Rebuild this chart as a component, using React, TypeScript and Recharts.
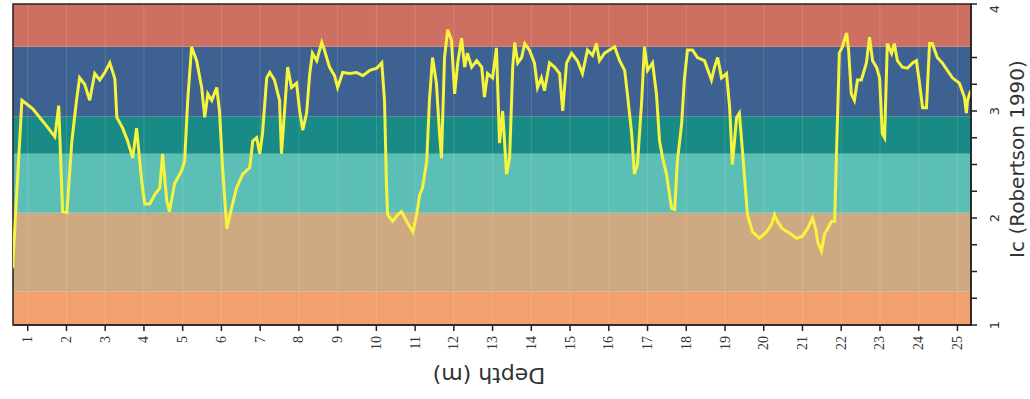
import { ComposedChart, Line, XAxis, YAxis, ReferenceArea, ReferenceLine } from 'recharts';

// CPT soil behaviour type index along the sounding
const depths = [
  0.61, 0.85, 1.13, 1.4, 1.7, 1.8, 1.9, 2.01, 2.14, 2.26, 2.34, 2.47, 2.6, 2.73, 2.86, 2.99, 3.12, 3.25, 3.3, 3.45,
  3.58, 3.71, 3.81, 3.94, 4.02, 4.15, 4.28, 4.41, 4.48, 4.59, 4.66, 4.79, 4.97, 5.05, 5.13, 5.23, 5.36, 5.49, 5.57, 5.65,
  5.75, 5.88, 5.95, 6.03, 6.14, 6.26, 6.39, 6.55, 6.73, 6.81, 6.91, 6.99, 7.06, 7.17, 7.25, 7.37, 7.5, 7.55, 7.63, 7.71,
  7.81, 7.94, 8.02, 8.1, 8.2, 8.28, 8.35, 8.46, 8.59, 8.66, 8.79, 8.92, 9.0, 9.13, 9.31, 9.49, 9.65, 9.83, 10.01, 10.14,
  10.21, 10.26, 10.29, 10.42, 10.55, 10.65, 10.78, 10.94, 11.04, 11.12, 11.19, 11.3, 11.37, 11.45, 11.55, 11.63, 11.68, 11.76, 11.84, 11.94,
  12.02, 12.1, 12.2, 12.28, 12.35, 12.46, 12.59, 12.72, 12.79, 12.87, 13.0, 13.1, 13.18, 13.26, 13.36, 13.44, 13.52, 13.57, 13.65, 13.75,
  13.83, 13.95, 14.08, 14.16, 14.26, 14.34, 14.47, 14.6, 14.73, 14.81, 14.91, 15.04, 15.19, 15.32, 15.45, 15.58, 15.68, 15.76, 15.89, 16.02,
  16.15, 16.28, 16.41, 16.48, 16.59, 16.66, 16.74, 16.85, 16.92, 17.0, 17.13, 17.23, 17.31, 17.39, 17.49, 17.62, 17.7, 17.77, 17.88, 17.95,
  18.03, 18.16, 18.29, 18.47, 18.65, 18.73, 18.81, 18.91, 19.04, 19.12, 19.19, 19.3, 19.37, 19.45, 19.58, 19.71, 19.89, 20.07, 20.2, 20.28,
  20.35, 20.48, 20.66, 20.85, 21.0, 21.13, 21.26, 21.34, 21.39, 21.49, 21.57, 21.65, 21.75, 21.83, 21.88, 21.93, 21.95, 22.03, 22.14, 22.19,
  22.26, 22.34, 22.42, 22.52, 22.65, 22.73, 22.81, 22.91, 22.99, 23.06, 23.12, 23.19, 23.3, 23.37, 23.45, 23.58, 23.71, 23.84, 23.94, 24.01,
  24.1, 24.2, 24.28, 24.35, 24.48, 24.61, 24.74, 24.87, 25.05, 25.18, 25.23, 25.26, 25.34,
];

const icValues = [
  1.53, 3.1, 3.02, 2.9, 2.76, 3.05, 2.06, 2.05, 2.72, 3.1, 3.31, 3.25, 3.1, 3.35, 3.29, 3.36, 3.45, 3.3, 2.94, 2.84,
  2.72, 2.56, 2.84, 2.35, 2.13, 2.13, 2.22, 2.28, 2.6, 2.16, 2.06, 2.32, 2.44, 2.53, 3.1, 3.6, 3.47, 3.22, 2.94, 3.16,
  3.1, 3.22, 3.0, 2.47, 1.9, 2.09, 2.28, 2.41, 2.47, 2.72, 2.75, 2.6, 2.79, 3.31, 3.36, 3.29, 3.1, 2.6, 3.0, 3.41,
  3.22, 3.26, 3.0, 2.82, 2.98, 3.35, 3.54, 3.47, 3.64, 3.57, 3.41, 3.33, 3.22, 3.36, 3.35, 3.36, 3.33, 3.38, 3.4, 3.45,
  3.1, 2.32, 2.03, 1.97, 2.03, 2.06, 1.97, 1.87, 2.03, 2.22, 2.28, 2.53, 3.1, 3.5, 3.26, 2.79, 2.56, 3.5, 3.76, 3.66,
  3.16, 3.45, 3.68, 3.41, 3.54, 3.41, 3.47, 3.41, 3.13, 3.35, 3.31, 3.59, 2.7, 3.0, 2.41, 2.56, 3.41, 3.64, 3.45, 3.5,
  3.63, 3.57, 3.45, 3.22, 3.31, 3.19, 3.45, 3.41, 3.35, 3.0, 3.45, 3.54, 3.47, 3.35, 3.57, 3.52, 3.63, 3.47, 3.54, 3.57,
  3.6, 3.47, 3.38, 3.16, 2.79, 2.41, 2.5, 3.1, 3.6, 3.38, 3.45, 3.16, 2.72, 2.56, 2.41, 2.09, 2.08, 2.53, 2.88, 3.29,
  3.57, 3.57, 3.5, 3.47, 3.29, 3.41, 3.5, 3.31, 3.35, 3.03, 2.5, 2.94, 2.98, 2.63, 2.03, 1.87, 1.81, 1.87, 1.94, 2.03,
  1.97, 1.9, 1.86, 1.81, 1.83, 1.9, 2.0, 1.9, 1.78, 1.69, 1.85, 1.9, 1.97, 1.97, 2.63, 3.26, 3.54, 3.6, 3.73, 3.57,
  3.16, 3.1, 3.29, 3.29, 3.45, 3.69, 3.47, 3.41, 3.31, 2.79, 2.75, 3.63, 3.54, 3.63, 3.47, 3.41, 3.4, 3.45, 3.47, 3.29,
  3.03, 3.03, 3.63, 3.63, 3.5, 3.45, 3.38, 3.31, 3.26, 3.13, 2.98, 3.1, 3.19,
];

const depthTicks = [1, 2, 3, 4, 5, 6, 7, 8, 9, 10, 11, 12, 13, 14, 15, 16, 17, 18, 19, 20, 21, 22, 23, 24, 25];
const icTicks = [1, 1.25, 1.5, 1.75, 2, 2.25, 2.5, 2.75, 3, 3.25, 3.5, 3.75, 4];

// Robertson (1990) zone boundaries, low to high Ic
const zoneEdges = [1, 1.31, 2.05, 2.6, 2.95, 3.6, 4];
const zoneColors = ['#f2a070', '#cfa982', '#5cbfb6', '#198a86', '#3d6190', '#cd6f61'];

const X_MIN = 0.62;
const X_MAX = 25.35;

const points = depths.map((d, i) => ({ d, ic: icValues[i] }));

const DepthTick = ({ x, y, payload }: any) => (
  <text
    x={x}
    y={y + 3}
    transform={`rotate(-90 ${x} ${y + 3})`}
    textAnchor="end"
    dominantBaseline="central"
    fontFamily="'Liberation Serif', serif"
    fontSize={14}
    fill="#333"
  >
    {payload.value}
  </text>
);

const IcTick = ({ x, y, payload }: any) => {
  if (!Number.isInteger(payload.value)) return null;
  const tx = x + 15;
  return (
    <text
      x={tx}
      y={y}
      transform={`rotate(-90 ${tx} ${y})`}
      textAnchor="middle"
      dominantBaseline="central"
      fontFamily="'DejaVu Sans', sans-serif"
      fontSize={13}
      fill="#333"
    >
      {payload.value}
    </text>
  );
};

export default function App() {
  return (
    <div style={{ position: 'relative', width: 1030, height: 399, background: '#fff' }}>
      <style>{'body{margin:0}'}</style>
      <ComposedChart width={1030} height={399} data={points} margin={{ top: 4, right: 0, bottom: 0, left: 13 }}>
        <XAxis
          dataKey="d"
          type="number"
          domain={[X_MIN, X_MAX]}
          ticks={depthTicks}
          allowDataOverflow
          height={74}
          tickSize={6}
          tick={<DepthTick />}
          axisLine={{ stroke: '#222', strokeWidth: 1.5 }}
          tickLine={{ stroke: '#222', strokeWidth: 1.5 }}
        />
        <YAxis
          orientation="right"
          type="number"
          domain={[1, 4]}
          ticks={icTicks}
          width={59}
          tickSize={6}
          tick={<IcTick />}
          axisLine={{ stroke: '#222', strokeWidth: 1.5 }}
          tickLine={{ stroke: '#222', strokeWidth: 1.5 }}
        />
        {zoneColors.map((c, i) => (
          <ReferenceArea
            key={c}
            x1={X_MIN}
            x2={X_MAX}
            y1={zoneEdges[i]}
            y2={zoneEdges[i + 1]}
            fill={c}
            fillOpacity={1}
            stroke="none"
          />
        ))}
        {depthTicks.map((t) => (
          <ReferenceLine key={t} x={t} stroke="rgba(255,255,255,0.14)" strokeWidth={1} />
        ))}
        <ReferenceArea
          x1={X_MIN}
          x2={X_MAX}
          y1={1}
          y2={4}
          fill="none"
          stroke="#222"
          strokeWidth={1.5}
        />
        <Line
          dataKey="ic"
          type="linear"
          stroke="#f6f43c"
          strokeWidth={3}
          dot={false}
          isAnimationActive={false}
        />
      </ComposedChart>
      <svg
        width={1030}
        height={399}
        style={{ position: 'absolute', left: 0, top: 0, pointerEvents: 'none' }}
      >
        <text
          x={489}
          y={375}
          transform="rotate(180 489 375)"
          textAnchor="middle"
          dominantBaseline="central"
          fontFamily="'DejaVu Sans', sans-serif"
          fontSize={22}
          fill="#333"
        >
          Depth (m)
        </text>
        <text
          x={1024}
          y={159}
          transform="rotate(-90 1024 159)"
          textAnchor="middle"
          fontFamily="'DejaVu Sans', sans-serif"
          fontSize={20}
          fill="#333"
        >
          Ic (Robertson 1990)
        </text>
      </svg>
    </div>
  );
}
